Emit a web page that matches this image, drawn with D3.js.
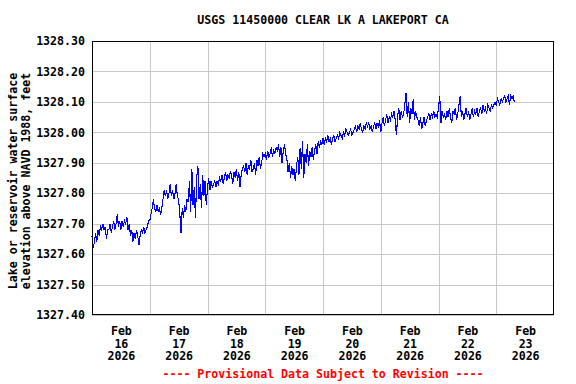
<!DOCTYPE html>
<html>
<head>
<meta charset="utf-8">
<script src="https://cdn.jsdelivr.net/npm/d3@7"></script>
<style>
  body { margin: 0; background: #fff; }
  text { font-family: "DejaVu Sans Mono", monospace; font-weight: bold; font-size: 11.6px; }
  line, rect, path { shape-rendering: crispEdges; }
</style>
</head>
<body>
<div id="vis"></div>
<script>
// chart text
const TITLE = "USGS 11450000 CLEAR LK A LAKEPORT CA";
const Y_LABEL = ["Lake or reservoir water surface", "elevation above NAVD 1988, feet"];
const FOOTER = "---- Provisional Data Subject to Revision ----";

// y ticks (feet)
const Y_TICKS = [1327.40, 1327.50, 1327.60, 1327.70, 1327.80, 1327.90, 1328.00, 1328.10, 1328.20, 1328.30];
// x tick days (Feb 2026)
const DAYS = [16, 17, 18, 19, 20, 21, 22, 23];

// half-hourly gage height readings, one array per day
const FEB16 = [1327.66, 1327.62, 1327.64, 1327.67, 1327.64, 1327.68, 1327.66, 1327.69, 1327.68, 1327.70,
  1327.68, 1327.69, 1327.65, 1327.68, 1327.68, 1327.70, 1327.67, 1327.69, 1327.71, 1327.68,
  1327.70, 1327.73, 1327.69, 1327.71, 1327.68, 1327.71, 1327.69, 1327.71, 1327.70, 1327.72,
  1327.68, 1327.70, 1327.66, 1327.68, 1327.64, 1327.67, 1327.65, 1327.68, 1327.66, 1327.63,
  1327.66, 1327.68, 1327.67, 1327.69, 1327.67, 1327.68, 1327.69, 1327.71];
const FEB17 = [1327.71, 1327.73, 1327.75, 1327.78, 1327.75, 1327.74, 1327.76, 1327.74, 1327.75, 1327.73,
  1327.75, 1327.78, 1327.81, 1327.79, 1327.81, 1327.78, 1327.80, 1327.83, 1327.79, 1327.81,
  1327.78, 1327.80, 1327.83, 1327.79, 1327.78, 1327.73, 1327.67, 1327.75, 1327.72, 1327.76,
  1327.74, 1327.78, 1327.77, 1327.84, 1327.74, 1327.88, 1327.76, 1327.82, 1327.72, 1327.85,
  1327.89, 1327.78, 1327.83, 1327.75, 1327.86, 1327.79, 1327.84, 1327.76];
const FEB18 = [1327.82, 1327.85, 1327.81, 1327.84, 1327.82, 1327.83, 1327.84, 1327.82, 1327.84, 1327.83,
  1327.85, 1327.84, 1327.86, 1327.83, 1327.85, 1327.87, 1327.84, 1327.86, 1327.85, 1327.87,
  1327.86, 1327.83, 1327.87, 1327.85, 1327.88, 1327.84, 1327.87, 1327.82, 1327.86, 1327.88,
  1327.89, 1327.87, 1327.90, 1327.86, 1327.89, 1327.88, 1327.91, 1327.87, 1327.88, 1327.90,
  1327.86, 1327.91, 1327.89, 1327.92, 1327.88, 1327.90, 1327.93, 1327.92];
const FEB19 = [1327.93, 1327.91, 1327.94, 1327.92, 1327.93, 1327.95, 1327.92, 1327.94, 1327.93, 1327.95,
  1327.94, 1327.96, 1327.92, 1327.95, 1327.90, 1327.94, 1327.96, 1327.93, 1327.91, 1327.87,
  1327.90, 1327.85, 1327.89, 1327.86, 1327.88, 1327.84, 1327.89, 1327.92, 1327.86, 1327.95,
  1327.88, 1327.97, 1327.85, 1327.93, 1327.90, 1327.96, 1327.89, 1327.94, 1327.92, 1327.95,
  1327.91, 1327.94, 1327.96, 1327.93, 1327.97, 1327.95, 1327.97, 1327.96];
const FEB20 = [1327.98, 1327.96, 1327.98, 1327.97, 1327.99, 1327.97, 1327.98, 1327.96, 1327.98, 1327.99,
  1327.97, 1327.98, 1327.99, 1327.98, 1328.00, 1327.99, 1327.98, 1328.00, 1327.99, 1328.01,
  1328.00, 1327.99, 1328.00, 1328.01, 1327.99, 1328.00, 1328.01, 1328.02, 1328.00, 1328.02,
  1328.01, 1328.03, 1328.01, 1328.00, 1328.02, 1328.01, 1328.03, 1328.02, 1328.03, 1328.01,
  1328.02, 1328.00, 1328.02, 1328.03, 1328.01, 1328.03, 1328.02, 1328.04];
const FEB21 = [1328.00, 1328.03, 1328.05, 1328.02, 1328.04, 1328.06, 1328.03, 1328.05, 1328.04, 1328.06,
  1328.05, 1328.07, 1328.04, 1327.99, 1328.05, 1328.08, 1328.04, 1328.07, 1328.05, 1328.06,
  1328.09, 1328.13, 1328.05, 1328.10, 1328.03, 1328.08, 1328.06, 1328.11, 1328.04, 1328.07,
  1328.05, 1328.04, 1328.02, 1328.05, 1328.01, 1328.03, 1328.05, 1328.02, 1328.04, 1328.05,
  1328.06, 1328.04, 1328.06, 1328.05, 1328.07, 1328.05, 1328.06, 1328.05];
const FEB22 = [1328.08, 1328.12, 1328.03, 1328.07, 1328.05, 1328.06, 1328.04, 1328.07, 1328.05, 1328.08,
  1328.05, 1328.03, 1328.07, 1328.06, 1328.08, 1328.04, 1328.06, 1328.09, 1328.12, 1328.05,
  1328.07, 1328.04, 1328.06, 1328.08, 1328.05, 1328.07, 1328.04, 1328.06, 1328.08, 1328.05,
  1328.07, 1328.06, 1328.08, 1328.05, 1328.07, 1328.08, 1328.06, 1328.09, 1328.07, 1328.08,
  1328.06, 1328.09, 1328.08, 1328.07, 1328.09, 1328.08, 1328.09, 1328.10];
const FEB23 = [1328.09, 1328.11, 1328.10, 1328.09, 1328.11, 1328.10, 1328.11, 1328.12, 1328.10, 1328.11,
  1328.12, 1328.09, 1328.12, 1328.11, 1328.12, 1328.10];

const DAY_SERIES = [FEB16, FEB17, FEB18, FEB19, FEB20, FEB21, FEB22, FEB23];

//frame constants
const FRAME_WIDTH = 576;
const FRAME_HEIGHT = 384;
const MARGINS = {left: 92, right: 22, top: 41, bottom: 69};
const VIS_WIDTH = FRAME_WIDTH - MARGINS.left - MARGINS.right;
const VIS_HEIGHT = FRAME_HEIGHT - MARGINS.top - MARGINS.bottom;

const FRAME = d3.select("#vis")
  .append("svg")
    .attr("width", FRAME_WIDTH)
    .attr("height", FRAME_HEIGHT);

// flatten into time/value points (readings every 30 min)
const data = [];
DAY_SERIES.forEach((vals, k) => {
  vals.forEach((v, j) => {
    data.push({t: new Date(2026, 1, DAYS[k], 0, 30 * j), v: v});
  });
});

const X_SCALE = d3.scaleTime()
  .domain([new Date(2026, 1, 16), new Date(2026, 1, 24)])
  .range([MARGINS.left, MARGINS.left + VIS_WIDTH]);

const Y_SCALE = d3.scaleLinear()
  .domain([Y_TICKS[0], Y_TICKS[Y_TICKS.length - 1]])
  .range([MARGINS.top + VIS_HEIGHT, MARGINS.top]);

// horizontal gridlines + y labels
const yAxis = FRAME.append("g")
  .attr("transform", "translate(" + MARGINS.left + ",0)")
  .call(d3.axisLeft(Y_SCALE)
    .tickValues(Y_TICKS)
    .tickSize(-VIS_WIDTH)
    .tickPadding(7)
    .tickFormat(d3.format(".2f")));
yAxis.select(".domain").remove();
yAxis.selectAll("line").attr("stroke", "#c8c8c8");
yAxis.selectAll("text").attr("fill", "#000").attr("font-size", null).attr("font-family", null);

// vertical gridlines at day boundaries
const BOUNDS = DAYS.slice(1).map((d) => new Date(2026, 1, d));
const xGrid = FRAME.append("g")
  .attr("transform", "translate(0," + (MARGINS.top + VIS_HEIGHT) + ")")
  .call(d3.axisBottom(X_SCALE).tickValues(BOUNDS).tickSize(-VIS_HEIGHT).tickFormat(""));
xGrid.select(".domain").remove();
xGrid.selectAll("line").attr("stroke", "#c8c8c8");

// day labels at noon
const xAxis = FRAME.append("g")
  .attr("transform", "translate(0," + (MARGINS.top + VIS_HEIGHT) + ")")
  .call(d3.axisBottom(X_SCALE)
    .tickValues(DAYS.map((d) => new Date(2026, 1, d, 12)))
    .tickSize(0)
    .tickFormat(""));
xAxis.select(".domain").remove();
xAxis.selectAll(".tick text").remove();
xAxis.selectAll(".tick").each(function(d) {
  const t = d3.select(this).append("text")
    .attr("fill", "#000")
    .attr("text-anchor", "middle");
  const parts = ["Feb", String(d.getDate()), "2026"];
  parts.forEach((p, i) => {
    t.append("tspan").attr("x", 0).attr("y", 20 + i * 12.6).text(p);
  });
});

// data line
FRAME.append("path")
  .datum(data)
  .attr("fill", "none")
  .attr("stroke", "#0000ff")
  .attr("stroke-width", 1.1)
  .attr("d", d3.line()
    .x((d) => X_SCALE(d.t))
    .y((d) => Y_SCALE(d.v)));

// plot border
FRAME.append("rect")
  .attr("x", MARGINS.left + 0.5)
  .attr("y", MARGINS.top + 0.5)
  .attr("width", VIS_WIDTH - 1)
  .attr("height", VIS_HEIGHT - 1)
  .attr("fill", "none")
  .attr("stroke", "#000");

// title
FRAME.append("text")
  .attr("x", MARGINS.left + VIS_WIDTH / 2)
  .attr("y", 24)
  .attr("text-anchor", "middle")
  .text(TITLE);

// y axis label, two lines
const yl = FRAME.append("text")
  .attr("transform", "translate(0," + (MARGINS.top + VIS_HEIGHT / 2 + 3) + ") rotate(-90)")
  .attr("text-anchor", "middle");
Y_LABEL.forEach((line, i) => {
  yl.append("tspan").attr("x", 0).attr("y", 17 + i * 13).text(line);
});

// footer
FRAME.append("text")
  .attr("x", MARGINS.left + VIS_WIDTH / 2)
  .attr("y", 378)
  .attr("text-anchor", "middle")
  .attr("fill", "#ff0000")
  .text(FOOTER);
</script>
</body>
</html>
